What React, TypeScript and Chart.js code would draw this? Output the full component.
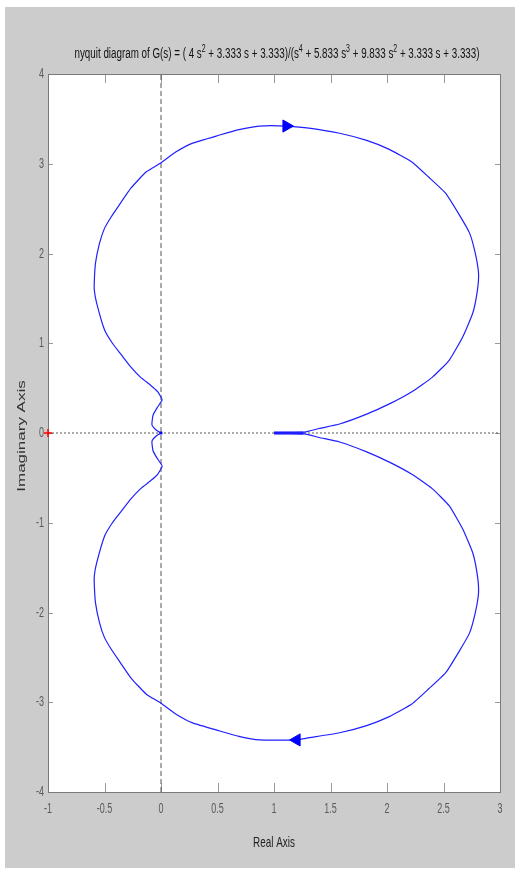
import React, { useEffect, useRef } from "react";
import { Chart, registerables } from "chart.js";

Chart.register(...registerables);

// Upper branch (from 1+0j towards the origin)
const upperRe = [1.0, 1.27, 1.4, 1.58, 1.82, 2.03, 2.22, 2.4, 2.55, 2.67, 2.76, 2.8, 2.81, 2.78, 2.73, 2.64, 2.52, 2.37, 2.22, 2.02, 1.82, 1.58, 1.29, 1.11, 0.87, 0.69, 0.52, 0.28, 0.13, 0.0, -0.13, -0.265, -0.37, -0.44, -0.5, -0.545, -0.58, -0.59, -0.59, -0.57, -0.5, -0.43, -0.35, -0.27, -0.18, -0.09, -0.03, 0.01, -0.03, -0.07, -0.08, -0.04, 0.0];
const upperIm = [0.0, 0.01, 0.05, 0.1, 0.21, 0.33, 0.46, 0.62, 0.81, 1.07, 1.34, 1.59, 1.78, 2.01, 2.23, 2.43, 2.67, 2.85, 3.02, 3.16, 3.26, 3.34, 3.4, 3.42, 3.42, 3.38, 3.32, 3.23, 3.13, 3.01, 2.91, 2.73, 2.54, 2.41, 2.28, 2.11, 1.89, 1.7, 1.59, 1.45, 1.15, 1.0, 0.87, 0.74, 0.62, 0.53, 0.46, 0.37, 0.29, 0.2, 0.09, 0.03, 0.0];
// Lower branch
const lowerRe = [1.0, 1.27, 1.4, 1.58, 1.82, 2.03, 2.22, 2.4, 2.55, 2.67, 2.76, 2.8, 2.81, 2.78, 2.73, 2.64, 2.52, 2.37, 2.22, 2.02, 1.82, 1.58, 1.29, 1.2, 0.87, 0.69, 0.52, 0.28, 0.13, 0.0, -0.13, -0.265, -0.37, -0.44, -0.5, -0.545, -0.58, -0.59, -0.59, -0.57, -0.5, -0.43, -0.35, -0.27, -0.18, -0.09, -0.03, 0.01, -0.03, -0.07, -0.08, -0.04, 0.0];
const lowerIm = [0.0, -0.01, -0.05, -0.1, -0.21, -0.33, -0.46, -0.62, -0.81, -1.07, -1.34, -1.59, -1.78, -2.01, -2.23, -2.43, -2.67, -2.85, -3.02, -3.16, -3.26, -3.34, -3.4, -3.42, -3.42, -3.38, -3.32, -3.23, -3.13, -3.01, -2.91, -2.73, -2.54, -2.41, -2.28, -2.11, -1.89, -1.7, -1.59, -1.45, -1.15, -1.0, -0.87, -0.74, -0.62, -0.53, -0.46, -0.37, -0.29, -0.2, -0.09, -0.03, 0.0];
// Thick segment on the real axis
const thickRe = [1.0, 1.26];
const thickIm = [0.0, 0.0];
// Blob at the origin
const originRe = [0];
const originIm = [0];
// Direction arrows
const arrowRe = [1.11, 1.2];
const arrowIm = [3.42, -3.42];
const arrowRotation = [90, -90];
// Critical point
const criticalRe = [-1];
const criticalIm = [0];

const xTicks = [-1, -0.5, 0, 0.5, 1, 1.5, 2, 2.5, 3];
const xTickLabels = ["-1", "-0.5", "0", "0.5", "1", "1.5", "2", "2.5", "3"];
const yTicks = [-4, -3, -2, -1, 0, 1, 2, 3, 4];
const yTickLabels = ["-4", "-3", "-2", "-1", "0", "1", "2", "3", "4"];
const titleParts: [string, boolean][] = [
  ["nyquit diagram of G(s) = ( 4 s", false],
  ["2", true],
  [" + 3.333 s + 3.333)/(s", false],
  ["4", true],
  [" + 5.833 s", false],
  ["3", true],
  [" + 9.833 s", false],
  ["2", true],
  [" + 3.333 s + 3.333)", false],
];
const xTitle = "Real Axis";
const yTitle = "Imaginary Axis";

const FONT = '"Liberation Sans", Arial, sans-serif';

function pts(xs: number[], ys: number[]) {
  return xs.map((x, i) => ({ x, y: ys[i] }));
}

function squished(ctx: CanvasRenderingContext2D, text: string, x: number, y: number, size: number, sx: number, align: CanvasTextAlign, color: string) {
  ctx.save();
  ctx.translate(x, y);
  ctx.scale(sx, 1);
  ctx.font = `${size}px ${FONT}`;
  ctx.fillStyle = color;
  ctx.textAlign = align;
  ctx.textBaseline = "middle";
  ctx.fillText(text, 0, 0);
  ctx.restore();
}

const matlabPlugin = {
  id: "matlabAxes",
  beforeDraw(chart: any) {
    const { ctx, chartArea: a } = chart;
    ctx.save();
    ctx.fillStyle = "#ffffff";
    ctx.fillRect(0, 0, chart.width, chart.height);
    ctx.fillStyle = "#cccccc";
    ctx.fillRect(5, 7, chart.width - 5, chart.height - 9);
    ctx.fillStyle = "#ffffff";
    ctx.fillRect(a.left, a.top, a.right - a.left, a.bottom - a.top);
    ctx.restore();
  },
  beforeDatasetsDraw(chart: any) {
    const { ctx, chartArea: a, scales } = chart;
    const xs = scales.x;
    const ys = scales.y;
    ctx.save();
    ctx.lineWidth = 1;
    ctx.strokeStyle = "#9a9a9a";
    ctx.beginPath();
    xTicks.forEach((v) => {
      const px = Math.round(xs.getPixelForValue(v)) + 0.5;
      ctx.moveTo(px, a.bottom);
      ctx.lineTo(px, a.bottom - 9);
      ctx.moveTo(px, a.top);
      ctx.lineTo(px, a.top + 9);
    });
    yTicks.forEach((v) => {
      const py = Math.round(ys.getPixelForValue(v)) + 0.5;
      ctx.moveTo(a.left, py);
      ctx.lineTo(a.left + 5, py);
      ctx.moveTo(a.right, py);
      ctx.lineTo(a.right - 5, py);
    });
    ctx.stroke();
    ctx.strokeStyle = "#7a7a7a";
    ctx.strokeRect(Math.round(a.left) + 0.5, Math.round(a.top) + 0.5, Math.round(a.right - a.left), Math.round(a.bottom - a.top));
    ctx.restore();

    xTicks.forEach((v, i) => {
      squished(ctx, xTickLabels[i], xs.getPixelForValue(v), a.bottom + 17, 15, 0.6, "center", "#5a5a5a");
    });
    yTicks.forEach((v, i) => {
      squished(ctx, yTickLabels[i], a.left - 4, ys.getPixelForValue(v), 15, 0.6, "right", "#5a5a5a");
    });

    const cx = (a.left + a.right) / 2;
    squished(ctx, xTitle, cx, a.bottom + 51, 15, 0.66, "center", "#222222");

    // y title
    ctx.save();
    ctx.translate(22, (a.top + a.bottom) / 2 + 3);
    ctx.rotate(-Math.PI / 2);
    ctx.scale(1, 0.6);
    ctx.font = `17px ${FONT}`;
    ctx.fillStyle = "#333333";
    ctx.textAlign = "center";
    ctx.textBaseline = "middle";
    ctx.fillText(yTitle, 0, 0);
    ctx.restore();

    // title with superscripts
    ctx.save();
    const mainSize = 14;
    const supSize = 10;
    let total = 0;
    const widths = titleParts.map(([t, sup]) => {
      ctx.font = `${sup ? supSize : mainSize}px ${FONT}`;
      const w = ctx.measureText(t).width;
      total += w;
      return w;
    });
    const target = 405;
    const sx = target / total;
    ctx.translate(cx + 3 - target / 2, 53);
    ctx.scale(sx, 1);
    ctx.fillStyle = "#111111";
    ctx.textBaseline = "alphabetic";
    ctx.textAlign = "left";
    let off = 0;
    titleParts.forEach(([t, sup], i) => {
      ctx.font = `${sup ? supSize : mainSize}px ${FONT}`;
      ctx.fillText(t, off, sup ? -1 : 5);
      off += widths[i];
    });
    ctx.restore();
  },
};

export default function App() {
  const ref = useRef<HTMLCanvasElement | null>(null);
  useEffect(() => {
    if (!ref.current) return;
    const blue = "#2020ff";
    const chart = new Chart(ref.current, {
      type: "scatter",
      data: {
        datasets: [
          {
            data: pts(arrowRe, arrowIm),
            pointStyle: "triangle",
            rotation: arrowRotation,
            pointRadius: 7,
            backgroundColor: "#0000ff",
            borderColor: "#0000ff",
            borderWidth: 1,
            showLine: false,
          } as any,
          {
            data: pts(criticalRe, criticalIm),
            pointStyle: "cross",
            pointRadius: 4,
            borderColor: "#ff0000",
            borderWidth: 1.5,
            showLine: false,
            clip: false,
          } as any,
          {
            data: pts(originRe, originIm),
            pointStyle: "rect",
            pointRadius: 2,
            backgroundColor: "#0000ff",
            borderColor: "#0000ff",
            borderWidth: 0,
            showLine: false,
          } as any,
          {
            data: pts(upperRe, upperIm),
            showLine: true,
            pointRadius: 0,
            borderColor: blue,
            borderWidth: 1.2,
            tension: 0.15,
          },
          {
            data: pts(lowerRe, lowerIm),
            showLine: true,
            pointRadius: 0,
            borderColor: blue,
            borderWidth: 1.2,
            tension: 0.15,
          },
          {
            data: pts(thickRe, thickIm),
            showLine: true,
            pointRadius: 0,
            borderColor: "#0000ff",
            borderWidth: 3,
          },
          {
            data: [{ x: 0, y: -4 }, { x: 0, y: 4 }],
            showLine: true,
            pointRadius: 0,
            borderColor: "#555555",
            borderWidth: 1,
            borderDash: [5, 3],
          },
          {
            data: [{ x: -1, y: 0 }, { x: 3, y: 0 }],
            showLine: true,
            pointRadius: 0,
            borderColor: "#555555",
            borderWidth: 1,
            borderDash: [2, 2],
          },
        ],
      },
      options: {
        responsive: false,
        animation: false,
        devicePixelRatio: 1,
        layout: { padding: { left: 48, top: 74, right: 15, bottom: 78 } },
        scales: {
          x: { type: "linear", min: -1, max: 3, display: false },
          y: { type: "linear", min: -4, max: 4, display: false },
        },
        plugins: {
          legend: { display: false },
          tooltip: { enabled: false },
          title: { display: false },
        },
      },
      plugins: [matlabPlugin],
    });
    return () => chart.destroy();
  }, []);
  return (
    <div style={{ position: "absolute", left: 0, top: 0, width: 515, height: 870 }}>
      <canvas ref={ref} width={515} height={870} style={{ display: "block" }} />
    </div>
  );
}
